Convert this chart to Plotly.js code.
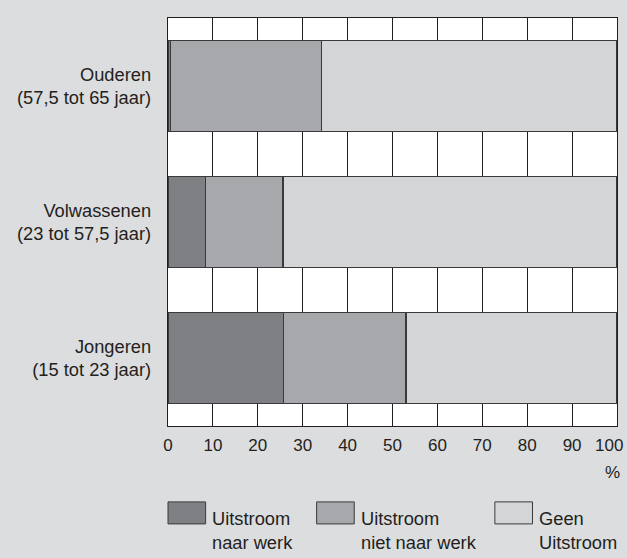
<!DOCTYPE html>
<html>
<head>
<meta charset="utf-8">
<script src="https://cdn.plot.ly/plotly-3.0.1.min.js"></script>
<style>html,body{margin:0;padding:0;background:#dcdddf;}#chart{width:627px;height:558px;}</style>
</head>
<body>
<div id="chart"></div>
<script>
const categories = ["Ouderen", "Volwassenen", "Jongeren"];
const categoryLabels = ["Ouderen<br>(57,5 tot 65 jaar)", "Volwassenen<br>(23 tot 57,5 jaar)", "Jongeren<br>(15 tot 23 jaar)"];
const seriesNames = ["Uitstroom naar werk", "Uitstroom niet naar werk", "Geen Uitstroom"];
const legendLabels = ["Uitstroom<br>naar werk", "Uitstroom<br>niet naar werk", "Geen<br>Uitstroom"];
const naarWerk = [0.6, 8.3, 25.7];
const nietNaarWerk = [33.6, 17.3, 27.3];
const geenUitstroom = [65.8, 74.4, 47.0];
const seriesValues = [naarWerk, nietNaarWerk, geenUitstroom];
const seriesColors = ["#7e8083", "#a7a8ab", "#d4d5d7"];
const xTicks = [0, 10, 20, 30, 40, 50, 60, 70, 80, 90, 100];
const xTickLabels = ["0", "10", "20", "30", "40", "50", "60", "70", "80", "90", "100"];

const family = "Liberation Sans, Arial, sans-serif";
const textFont = {family: family, size: 18.3, color: "#231f20"};
const tickFont = {family: family, size: 17, color: "#231f20"};

const traces = seriesValues.map((vals, i) => ({
  type: "bar",
  orientation: "h",
  name: seriesNames[i],
  y: categories,
  x: vals,
  marker: {color: seriesColors[i], line: {color: "#3a3a3a", width: 1.2}},
  showlegend: false,
  hoverinfo: "x+name"
}));

// legend drawn as boxes + labels in paper coordinates
const legendX = [0.0, 0.331, 0.728];
const shapes = [];
const annotations = [];
legendX.forEach((lx, i) => {
  shapes.push({type: "rect", xref: "paper", yref: "paper",
    x0: lx, x1: lx + 0.0838, y0: -0.240, y1: -0.186,
    fillcolor: seriesColors[i], line: {color: "#3a3a3a", width: 1}});
  annotations.push({xref: "paper", yref: "paper", x: lx + 0.094, y: -0.196,
    xanchor: "left", yanchor: "top", align: "left", showarrow: false,
    text: legendLabels[i], font: textFont});
});
// last tick label sits just inside the right edge, with the unit below it
const lastIdx = xTicks.length - 1;
annotations.push({xref: "x", yref: "paper", x: xTicks[lastIdx], y: 0, yshift: -19,
  xanchor: "center", yanchor: "middle", xshift: -8, showarrow: false,
  text: xTickLabels[lastIdx], font: tickFont});
annotations.push({xref: "paper", yref: "paper", x: 0.99, y: -0.085,
  xanchor: "center", yanchor: "top", showarrow: false, text: "%", font: tickFont});

const layout = {
  width: 627, height: 558,
  margin: {l: 168, r: 10, t: 18, b: 132},
  paper_bgcolor: "#dcdddf",
  plot_bgcolor: "#ffffff",
  barmode: "stack",
  bargap: 0.335,
  font: textFont,
  xaxis: {
    range: [0, 100], tickvals: xTicks,
    ticktext: xTickLabels.map((t, i) => i === lastIdx ? "" : t),
    showgrid: true, gridcolor: "#231f20", gridwidth: 1,
    zeroline: false, showline: true, mirror: true, linecolor: "#231f20", linewidth: 1.2,
    ticks: "", ticklabelstandoff: 3,
    tickfont: tickFont, fixedrange: true, automargin: false
  },
  yaxis: {
    type: "category", autorange: "reversed",
    tickvals: categories, ticktext: categoryLabels,
    showgrid: false, zeroline: false, showline: true, mirror: true,
    linecolor: "#231f20", linewidth: 1.2,
    ticks: "", ticklabelstandoff: 12, tickfont: textFont, fixedrange: true, automargin: false
  },
  shapes: shapes,
  annotations: annotations,
  showlegend: false
};

Plotly.newPlot("chart", traces, layout, {displayModeBar: false, staticPlot: true});
</script>
</body>
</html>
